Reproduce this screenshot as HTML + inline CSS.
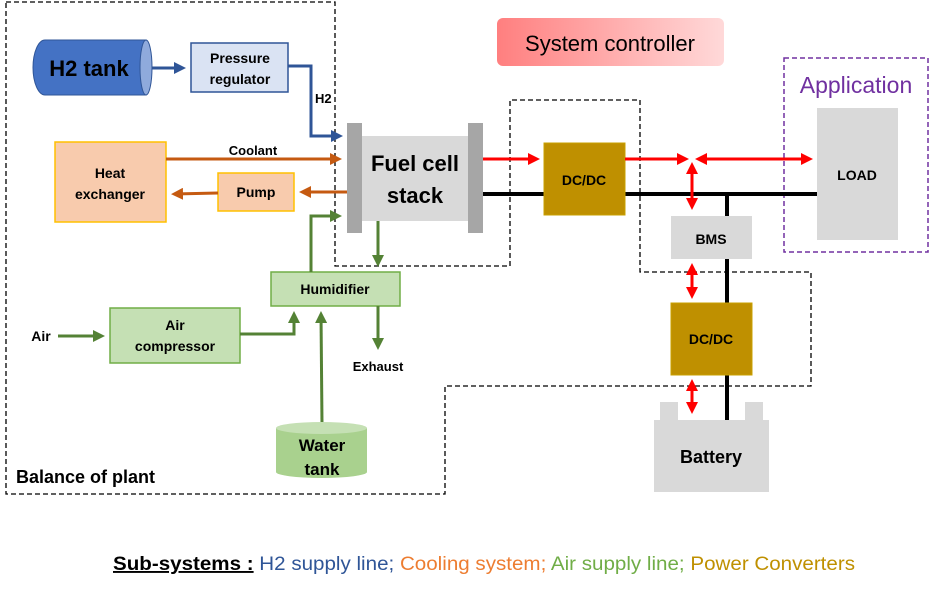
<!DOCTYPE html>
<html><head><meta charset="utf-8"><style>
body{margin:0;background:#fff}
svg{display:block}
text{font-family:"Liberation Sans",sans-serif}
.b{font-weight:bold}
</style></head><body>
<svg width="933" height="591" viewBox="0 0 933 591" xmlns="http://www.w3.org/2000/svg">
<defs>
<linearGradient id="sc" x1="0" x2="1"><stop offset="0" stop-color="#ff7f7f"/><stop offset="1" stop-color="#ffd9d9"/></linearGradient>
<marker id="ab" markerWidth="4" markerHeight="4" refX="3" refY="2" orient="auto"><path d="M0,0L4,2L0,4z" fill="#2f5597"/></marker>
<marker id="ao" markerWidth="4" markerHeight="4" refX="3" refY="2" orient="auto"><path d="M0,0L4,2L0,4z" fill="#c55a11"/></marker>
<marker id="ag" markerWidth="4" markerHeight="4" refX="3" refY="2" orient="auto"><path d="M0,0L4,2L0,4z" fill="#548235"/></marker>
<marker id="ar" markerWidth="4" markerHeight="4" refX="3" refY="2" orient="auto-start-reverse"><path d="M0,0L4,2L0,4z" fill="#ff0000"/></marker>
</defs>
<!-- dashed boundaries -->
<path d="M6,2H335V266H510V100H640V272H811V386H445V494H6Z" fill="none" stroke="#000" stroke-width="1.3" stroke-dasharray="5,3"/>
<rect x="784" y="58" width="144" height="194" fill="none" stroke="#7030a0" stroke-width="1.5" stroke-dasharray="5,3"/>
<!-- system controller -->
<rect x="497" y="18" width="227" height="48" rx="6" fill="url(#sc)"/>
<text x="610" y="51" font-size="22" text-anchor="middle" fill="#000">System controller</text>
<text x="856" y="93" font-size="23" text-anchor="middle" fill="#7030a0">Application</text>
<!-- H2 tank -->
<path d="M45,40H146V95H45A12,27.5 0 0 1 45,40Z" fill="#4472c4" stroke="#2f5597"/>
<ellipse cx="146" cy="67.5" rx="6" ry="27.5" fill="#8faadc" stroke="#2f5597"/>
<text x="89" y="76" font-size="22" class="b" text-anchor="middle">H2 tank</text>
<rect x="191" y="43" width="97" height="49" fill="#dae3f3" stroke="#2f5597" stroke-width="1.5"/>
<text x="240" y="63" font-size="14" class="b" text-anchor="middle">Pressure</text>
<text x="240" y="84" font-size="14" class="b" text-anchor="middle">regulator</text>
<line x1="152" y1="68" x2="183" y2="68" stroke="#2f5597" stroke-width="3" marker-end="url(#ab)"/>
<path d="M288,66H311V136H340" fill="none" stroke="#2f5597" stroke-width="3" marker-end="url(#ab)"/>
<text x="315" y="103" font-size="13" class="b">H2</text>
<!-- fuel cell -->
<rect x="362" y="136" width="106" height="85" fill="#d9d9d9"/>
<rect x="347" y="123" width="15" height="110" fill="#a6a6a6"/>
<rect x="468" y="123" width="15" height="110" fill="#a6a6a6"/>
<text x="415" y="171" font-size="22" class="b" text-anchor="middle">Fuel cell</text>
<text x="415" y="203" font-size="22" class="b" text-anchor="middle">stack</text>
<!-- cooling -->
<rect x="55" y="142" width="111" height="80" fill="#f8cbad" stroke="#ffc000" stroke-width="1.5"/>
<text x="110" y="178" font-size="14" class="b" text-anchor="middle">Heat</text>
<text x="110" y="199" font-size="14" class="b" text-anchor="middle">exchanger</text>
<rect x="218" y="173" width="76" height="38" fill="#f8cbad" stroke="#ffc000" stroke-width="1.5"/>
<text x="256" y="197" font-size="14" class="b" text-anchor="middle">Pump</text>
<line x1="166" y1="159" x2="339" y2="159" stroke="#c55a11" stroke-width="3" marker-end="url(#ao)"/>
<text x="253" y="155" font-size="13" class="b" text-anchor="middle">Coolant</text>
<line x1="347" y1="192" x2="302" y2="192" stroke="#c55a11" stroke-width="3" marker-end="url(#ao)"/>
<line x1="218" y1="193" x2="174" y2="194" stroke="#c55a11" stroke-width="3" marker-end="url(#ao)"/>
<!-- air -->
<rect x="271" y="272" width="129" height="34" fill="#c5e0b4" stroke="#70ad47" stroke-width="1.5"/>
<text x="335" y="294" font-size="14" class="b" text-anchor="middle">Humidifier</text>
<rect x="110" y="308" width="130" height="55" fill="#c5e0b4" stroke="#70ad47" stroke-width="1.5"/>
<text x="175" y="330" font-size="14" class="b" text-anchor="middle">Air</text>
<text x="175" y="351" font-size="14" class="b" text-anchor="middle">compressor</text>
<text x="41" y="341" font-size="14" class="b" text-anchor="middle">Air</text>
<line x1="58" y1="336" x2="102" y2="336" stroke="#548235" stroke-width="3" marker-end="url(#ag)"/>
<path d="M240,334H294V314" fill="none" stroke="#548235" stroke-width="3" marker-end="url(#ag)"/>
<path d="M311,272V216H339" fill="none" stroke="#548235" stroke-width="3" marker-end="url(#ag)"/>
<line x1="378" y1="221" x2="378" y2="264" stroke="#548235" stroke-width="3" marker-end="url(#ag)"/>
<line x1="378" y1="306" x2="378" y2="347" stroke="#548235" stroke-width="3" marker-end="url(#ag)"/>
<text x="378" y="371" font-size="13" class="b" text-anchor="middle">Exhaust</text>
<line x1="322" y1="424" x2="321" y2="314" stroke="#548235" stroke-width="3" marker-end="url(#ag)"/>
<path d="M276,428V472A45.5,6 0 0 0 367,472V428" fill="#a9d18e"/>
<ellipse cx="321.5" cy="428" rx="45.5" ry="6" fill="#c5e0b4"/>
<text x="322" y="451" font-size="17" class="b" text-anchor="middle">Water</text>
<text x="322" y="475" font-size="17" class="b" text-anchor="middle">tank</text>
<text x="16" y="483" font-size="18" class="b">Balance of plant</text>
<!-- power -->
<path d="M483,194H817M727,194V420" stroke="#000" stroke-width="4" fill="none"/>
<rect x="544" y="143" width="81" height="72" fill="#bf9000" stroke="#c9a000"/>
<text x="584" y="185" font-size="14" class="b" text-anchor="middle">DC/DC</text>
<rect x="671" y="216" width="81" height="43" fill="#d9d9d9"/>
<text x="711" y="244" font-size="14" class="b" text-anchor="middle">BMS</text>
<rect x="671" y="303" width="81" height="72" fill="#bf9000" stroke="#c9a000"/>
<text x="711" y="344" font-size="14" class="b" text-anchor="middle">DC/DC</text>
<rect x="660" y="402" width="18" height="20" fill="#d9d9d9"/>
<rect x="745" y="402" width="18" height="20" fill="#d9d9d9"/>
<rect x="654" y="420" width="115" height="72" fill="#d9d9d9"/>
<text x="711" y="463" font-size="18" class="b" text-anchor="middle">Battery</text>
<rect x="817" y="108" width="81" height="132" fill="#d9d9d9"/>
<text x="857" y="180" font-size="14" class="b" text-anchor="middle">LOAD</text>
<g stroke="#ff0000" stroke-width="3">
<line x1="483" y1="159" x2="537" y2="159" marker-end="url(#ar)"/>
<line x1="625" y1="159" x2="686" y2="159" marker-end="url(#ar)"/>
<line x1="698" y1="159" x2="810" y2="159" marker-start="url(#ar)" marker-end="url(#ar)"/>
<line x1="692" y1="165" x2="692" y2="207" marker-start="url(#ar)" marker-end="url(#ar)"/>
<line x1="692" y1="266" x2="692" y2="296" marker-start="url(#ar)" marker-end="url(#ar)"/>
<line x1="692" y1="382" x2="692" y2="411" marker-start="url(#ar)" marker-end="url(#ar)"/>
</g>
<!-- legend -->
<text x="113" y="570" font-size="19" textLength="742" lengthAdjust="spacingAndGlyphs"><tspan class="b" text-decoration="underline" fill="#000">Sub-systems :</tspan><tspan fill="#2f5597"> H2 supply line; </tspan><tspan fill="#ed7d31">Cooling system; </tspan><tspan fill="#70ad47">Air supply line; </tspan><tspan fill="#bf9000">Power Converters</tspan></text>
</svg>
</body></html>
